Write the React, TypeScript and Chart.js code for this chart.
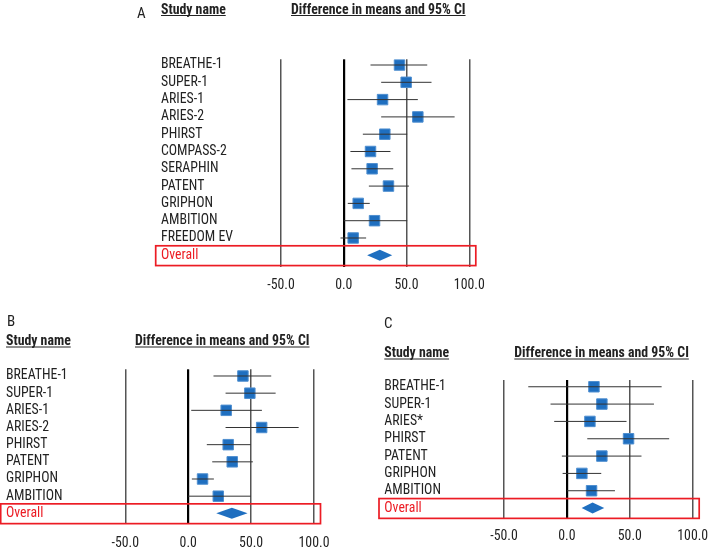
import React, { useEffect, useRef } from 'react';
import { Chart, registerables } from 'chart.js';

Chart.register(...registerables);

// ---------------- DATA ----------------
// Panel A
const studiesA = ['BREATHE-1', 'SUPER-1', 'ARIES-1', 'ARIES-2', 'PHIRST', 'COMPASS-2', 'SERAPHIN', 'PATENT', 'GRIPHON', 'AMBITION', 'FREEDOM EV'];
const meansA = [44.4, 49.7, 30.9, 59.0, 32.7, 21.3, 22.6, 35.6, 11.5, 24.5, 7.5];
const lowerA = [21.3, 29.8, 2.9, 29.8, 15.2, 5.3, 6.1, 20.0, 3.2, 0.0, -2.6];
const upperA = [66.5, 69.9, 59.0, 88.3, 50.5, 37.2, 39.4, 51.9, 20.7, 50.5, 17.8];
const overallA = [18.6, 28.7, 38.6]; // lower, mean, upper

// Panel B
const studiesB = ['BREATHE-1', 'SUPER-1', 'ARIES-1', 'ARIES-2', 'PHIRST', 'PATENT', 'GRIPHON', 'AMBITION'];
const meansB = [43.5, 49.0, 30.2, 58.4, 31.8, 35.0, 11.4, 23.9];
const lowerB = [20.1, 29.7, 2.4, 29.7, 14.8, 19.1, 2.9, 0.0];
const upperB = [66.0, 69.5, 58.6, 87.8, 49.8, 51.4, 20.4, 49.8];
const overallB = [22.3, 34.7, 47.2];

// Panel C
const studiesC = ['BREATHE-1', 'SUPER-1', 'ARIES*', 'PHIRST', 'PATENT', 'GRIPHON', 'AMBITION'];
const meansC = [21.5, 27.8, 18.3, 49.0, 27.8, 11.9, 19.6];
const lowerC = [-30.7, -13.0, -10.1, 16.2, -4.0, -3.4, 0.0];
const upperC = [75.3, 69.2, 47.4, 81.3, 59.3, 27.3, 38.2];
const overallC = [11.7, 20.4, 29.7];

const xTicks = [-50, 0, 50, 100];
const overallLabel = 'Overall';
const headerStudy = 'Study name';
const headerEffect = 'Difference in means and 95% CI';

// ---------------- STYLE ----------------
const W = 709;
const H = 550;
const FONT = "'Roboto Condensed', 'Liberation Sans', sans-serif";
const FONT_SIZE = 13.8;
const RED = '#ec1c24';
const BLUE = '#1f6fc0';
const BLUE_EDGE = '#4f8fd0';
const TEXT = '#222222';

type Panel = {
  letter: string;
  studies: string[];
  means: number[];
  lower: number[];
  upper: number[];
  overall: number[];
  labelX: number;
  plotLeft: number;
  plotRight: number;
  plotTop: number;
  plotBottom: number;
  yMin: number;
  yMax: number;
  letterX: number;
  letterBase: number;
  headerBase: number;
  effectX: number;
  tickPad: number;
};

const panels: Panel[] = [
  {
    letter: 'A', studies: studiesA, means: meansA, lower: lowerA, upper: upperA, overall: overallA,
    labelX: 161, plotLeft: 281, plotRight: 469.3, plotTop: 59.3, plotBottom: 266.7,
    yMin: -0.33, yMax: 11.66, letterX: 137, letterBase: 18.3, headerBase: 13.5, effectX: 291, tickPad: 11,
  },
  {
    letter: 'B', studies: studiesB, means: meansB, lower: lowerB, upper: upperB, overall: overallB,
    labelX: 6, plotLeft: 125.3, plotRight: 314, plotTop: 369.3, plotBottom: 523.3,
    yMin: -0.39, yMax: 8.58, letterX: 7, letterBase: 325.5, headerBase: 345, effectX: 135, tickPad: 12,
  },
  {
    letter: 'C', studies: studiesC, means: meansC, lower: lowerC, upper: upperC, overall: overallC,
    labelX: 384.3, plotLeft: 504, plotRight: 692.7, plotTop: 380, plotBottom: 518.3,
    yMin: -0.39, yMax: 7.59, letterX: 384, letterBase: 328, headerBase: 357, effectX: 514.3, tickPad: 10,
  },
];

function makeConfig(p: Panel): any {
  const labels = [...p.studies, overallLabel];
  const n = labels.length;
  const ciData: any[] = [];
  p.studies.forEach((_, i) => {
    ciData.push({ x: p.lower[i], y: i }, { x: p.upper[i], y: i }, { x: null, y: null });
  });
  const pointData = p.studies.map((_, i) => ({ x: p.means[i], y: i }));

  const decor = {
    id: 'forestDecor',
    afterDatasetsDraw(chart: any) {
      const { ctx, scales } = chart;
      const x = scales.x;
      const y = scales.y;
      const yo = y.getPixelForValue(n - 1);
      const xl = x.getPixelForValue(p.overall[0]);
      const xm = x.getPixelForValue(p.overall[1]);
      const xh = x.getPixelForValue(p.overall[2]);
      ctx.save();
      // diamond
      ctx.beginPath();
      ctx.moveTo(xl, yo);
      ctx.lineTo(xm, yo - 5.5);
      ctx.lineTo(xh, yo);
      ctx.lineTo(xm, yo + 5.5);
      ctx.closePath();
      ctx.fillStyle = BLUE;
      ctx.fill();
      // red box around overall row
      const bx0 = y.left - 5.3;
      const bx1 = x.getPixelForValue(100) + 6.5;
      ctx.strokeStyle = RED;
      ctx.lineWidth = 1.7;
      ctx.strokeRect(bx0, yo - 9.5, bx1 - bx0, 19.8);
      // headers
      ctx.fillStyle = TEXT;
      ctx.textBaseline = 'alphabetic';
      ctx.textAlign = 'left';
      ctx.font = `normal 15px ${FONT}`;
      ctx.fillText(p.letter, p.letterX, p.letterBase);
      ctx.font = `bold ${FONT_SIZE}px ${FONT}`;
      const drawUnder = (t: string, tx: number) => {
        ctx.fillText(t, tx, p.headerBase);
        const w = ctx.measureText(t).width;
        ctx.beginPath();
        ctx.moveTo(tx, p.headerBase + 2);
        ctx.lineTo(tx + w, p.headerBase + 2);
        ctx.strokeStyle = TEXT;
        ctx.lineWidth = 1;
        ctx.stroke();
      };
      drawUnder(headerStudy, y.left);
      drawUnder(headerEffect, p.effectX);
      ctx.restore();
    },
  };

  return {
    type: 'scatter',
    data: {
      datasets: [
        {
          data: ciData,
          showLine: true,
          spanGaps: false,
          borderColor: '#333333',
          borderWidth: 1,
          pointRadius: 0,
          pointHoverRadius: 0,
        },
        {
          data: pointData,
          showLine: false,
          pointStyle: 'rect',
          pointRadius: 7.4,
          pointBackgroundColor: BLUE,
          pointBorderColor: BLUE_EDGE,
          pointBorderWidth: 1,
        },
      ],
    },
    options: {
      animation: false,
      responsive: false,
      events: [],
      layout: {
        padding: {
          left: p.labelX,
          top: p.plotTop,
          right: W - p.plotRight,
          bottom: H - p.plotBottom - 30,
        },
      },
      plugins: {
        legend: { display: false },
        tooltip: { enabled: false },
        title: { display: false },
      },
      scales: {
        x: {
          type: 'linear',
          position: 'bottom',
          min: -50,
          max: 100,
          afterBuildTicks: (s: any) => {
            s.ticks = xTicks.map((v) => ({ value: v }));
          },
          afterFit: (s: any) => {
            s.height = 30;
            s.paddingLeft = 0;
            s.paddingRight = 0;
          },
          ticks: {
            callback: (v: any) => Number(v).toFixed(1),
            font: { family: FONT, size: FONT_SIZE },
            color: TEXT,
            padding: p.tickPad,
            maxRotation: 0,
            autoSkip: false,
          },
          grid: {
            drawTicks: false,
            color: (c: any) => (c.tick && c.tick.value === 0 ? '#000000' : '#555555'),
            lineWidth: (c: any) => (c.tick && c.tick.value === 0 ? 2.2 : 1.5),
          },
          border: { display: false },
        },
        y: {
          type: 'linear',
          position: 'left',
          reverse: true,
          min: p.yMin,
          max: p.yMax,
          afterBuildTicks: (s: any) => {
            s.ticks = labels.map((_, i) => ({ value: i }));
          },
          afterFit: (s: any) => {
            s.width = p.plotLeft - p.labelX;
            s.paddingTop = 0;
            s.paddingBottom = 0;
          },
          ticks: {
            callback: (v: any) => labels[v],
            crossAlign: 'far',
            autoSkip: false,
            padding: 0,
            font: { family: FONT, size: FONT_SIZE },
            color: (c: any) => (c.tick && c.tick.value === n - 1 ? RED : TEXT),
          },
          grid: { display: false },
          border: { display: false },
        },
      },
    },
    plugins: [decor],
  };
}

function PanelChart({ panel }: { panel: Panel }) {
  const ref = useRef<HTMLCanvasElement | null>(null);
  useEffect(() => {
    if (!ref.current) return;
    const chart = new Chart(ref.current, makeConfig(panel));
    return () => chart.destroy();
  }, [panel]);
  return (
    <canvas
      ref={ref}
      width={W}
      height={H}
      style={{ position: 'absolute', left: 0, top: 0, width: W, height: H }}
    />
  );
}

export default function App() {
  return (
    <div style={{ position: 'absolute', left: 0, top: 0, width: W, height: H, background: '#ffffff' }}>
      {panels.map((p) => (
        <PanelChart key={p.letter} panel={p} />
      ))}
    </div>
  );
}
